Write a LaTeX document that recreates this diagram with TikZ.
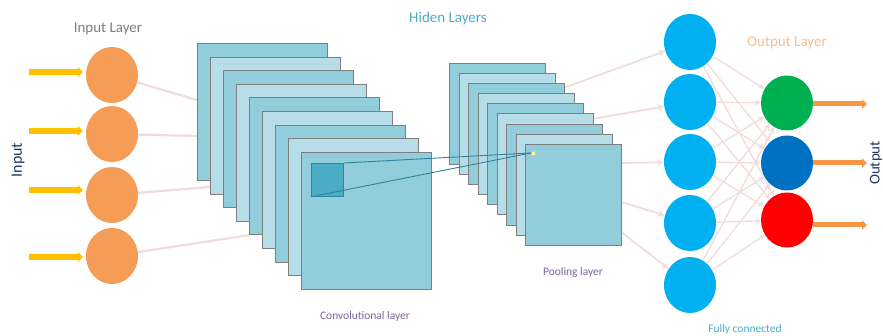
\documentclass[tikz,border=0pt]{standalone}
\usepackage{fontspec}
\setmainfont{Carlito}
\usetikzlibrary{shapes.geometric,arrows.meta,calc}
\pgfdeclarelayer{bg}
\pgfdeclarelayer{paper}
\pgfsetlayers{paper,bg,main}
\definecolor{inorange}{HTML}{F59D56}
\definecolor{outorange}{HTML}{F79646}
\definecolor{arryellow}{HTML}{FFC000}
\definecolor{convdark}{HTML}{92CDDC}
\definecolor{convlight}{HTML}{B7DEE8}
\definecolor{rectborder}{HTML}{7F7F7F}
\definecolor{kernfill}{HTML}{4BACC6}
\definecolor{kernline}{HTML}{31849B}
\definecolor{pinkline}{HTML}{F2DCDB}
\definecolor{fcblue}{HTML}{00B0F0}
\definecolor{outgreen}{HTML}{00B050}
\definecolor{outblue}{HTML}{0070C0}
\definecolor{outred}{HTML}{FF0000}
\definecolor{labgray}{HTML}{7F7F7F}
\definecolor{labteal}{HTML}{4BACC6}
\definecolor{laborange}{HTML}{FAC090}
\definecolor{labpurple}{HTML}{8064A2}
\definecolor{labnavy}{HTML}{1F3864}
\tikzset{
  neuron/.style={ellipse, minimum width=52pt, minimum height=56pt, inner sep=0pt, draw=none},
  convrect/.style={rectangle, anchor=north west, minimum width=130pt, minimum height=137pt, inner sep=0pt, draw=rectborder, line width=0.9pt},
  poolrect/.style={rectangle, anchor=north west, minimum width=96pt, minimum height=101pt, inner sep=0pt, draw=rectborder, line width=0.9pt},
  inline/.style={pinkline, line width=2.2pt},
  fcarrow/.style={pinkline, line width=1.8pt, -{Stealth[length=7pt,width=7pt]}},
  densearrow/.style={pinkline, line width=1.3pt, -{Stealth[length=6pt,width=6pt]}},
  yarrow/.style={arryellow, line width=6pt, -{Triangle[length=5pt,width=10pt]}},
  oarrow/.style={outorange, line width=5pt, -{Triangle[length=5pt,width=9pt]}},
  biglabel/.style={font=\fontsize{15}{18}\selectfont, inner sep=0pt},
  smalllabel/.style={font=\fontsize{11.5}{14}\selectfont, inner sep=0pt, text=labpurple},
}
\begin{document}
\begin{tikzpicture}[x=1pt,y=-1pt]
\useasboundingbox (0,0) rectangle (883,336);
\begin{pgfonlayer}{paper}
\fill[white] (0,0) rectangle (883,336);
\end{pgfonlayer}

% input neurons
\node[neuron, fill=inorange] (in1) at (112,75) {};
\node[neuron, fill=inorange] (in2) at (112,134) {};
\node[neuron, fill=inorange] (in3) at (112,195) {};
\node[neuron, fill=inorange] (in4) at (112,256) {};

% yellow input arrows
\coordinate (ya1) at (29,72);
\coordinate (ya2) at (29,131);
\coordinate (ya3) at (29,190);
\coordinate (ya4) at (29,257);
\foreach \k in {1,...,4}{
  \draw[yarrow, shorten >=3pt] (ya\k) -- (ya\k -| in\k.west);
}

% convolutional stack
\foreach \i in {0,...,8}{
  \ifodd\i\def\cc{convlight}\else\def\cc{convdark}\fi
  \node[convrect, fill=\cc] (conv\i) at ({197+13*\i},{43+13.6*\i}) {};
}
\node[rectangle, anchor=north west, minimum width=32pt, minimum height=33pt, inner sep=0pt, fill=kernfill, draw=kernline, line width=0.8pt] (kern) at (311,163) {};

% pooling stack
\foreach \i in {0,...,8}{
  \ifodd\i\def\cc{convlight}\else\def\cc{convdark}\fi
  \node[poolrect, fill=\cc] (pool\i) at ({449+9.5*\i},{63+10.1*\i}) {};
}
\node[rectangle, minimum width=4pt, minimum height=4pt, inner sep=0pt, fill=yellow!40, draw=yellow!70!orange, line width=0.4pt] (pp) at (533,153) {};

\draw[kernline, line width=0.9pt] (kern.north east) -- (pp.west);
\draw[kernline, line width=0.9pt] (kern.south west) -- (pp.west);

% input -> conv connectors (behind)
\coordinate (ic1) at (197,100);
\coordinate (ic2) at (197,136);
\coordinate (ic3) at (210,187);
\coordinate (ic4) at (250,235);
\begin{pgfonlayer}{bg}
\foreach \k in {1,...,4}{
  \draw[inline] (in\k) -- (ic\k);
}
\end{pgfonlayer}

% fully connected neurons
\node[neuron, fill=fcblue] (fc1) at (690,42) {};
\node[neuron, fill=fcblue] (fc2) at (690,102) {};
\node[neuron, fill=fcblue] (fc3) at (690,162) {};
\node[neuron, fill=fcblue] (fc4) at (690,223) {};
\node[neuron, fill=fcblue] (fc5) at (690,285) {};

% output neurons
\node[neuron, minimum height=55pt, fill=outgreen] (out1) at (787,103) {};
\node[neuron, minimum height=55pt, fill=outblue] (out2) at (787,163) {};
\node[neuron, minimum height=55pt, fill=outred] (out3) at (787,220) {};

% pooling -> fc arrows
\coordinate (pc1) at (563,88);
\coordinate (pc2) at (592,119);
\coordinate (pc3) at (621,163);
\coordinate (pc4) at (621,202);
\coordinate (pc5) at (621,232);
\begin{pgfonlayer}{bg}
\foreach \k in {1,...,5}{
  \draw[fcarrow] (pc\k) -- (fc\k);
}
\end{pgfonlayer}

% fc -> output arrows
\foreach \a in {1,...,5}{
  \foreach \b in {1,2,3}{
    \draw[densearrow] (fc\a) -- (out\b);
  }
}

% output arrows
\coordinate (oa1) at (867,104);
\coordinate (oa2) at (867,163);
\coordinate (oa3) at (867,225);
\draw[oarrow] (out1.east |- oa1) -- (oa1);
\draw[oarrow] (out2.east |- oa2) -- (oa2);
\draw[oarrow] (out3.east |- oa3) -- (oa3);

% labels
\node[biglabel, text=labgray] (tinl) at (108,29) {Input Layer};
\node[font=\fontsize{16}{19}\selectfont, inner sep=0pt, text=labnavy, rotate=90] (tinput) at (18,160) {Input};
\node[biglabel, text=labteal] (thid) at (448,19) {Hiden Layers};
\node[biglabel, text=laborange] (toutl) at (787,43) {Output Layer};
\node[smalllabel] (tconv) at (365,316) {Convolutional layer};
\node[smalllabel] (tpool) at (573,272) {Pooling layer};
\node[smalllabel, text=labteal] (tfc) at (745,329) {Fully connected};
\node[font=\fontsize{15}{18}\selectfont, inner sep=0pt, text=labnavy, rotate=90] (toutput) at (876,163) {Output};
\end{tikzpicture}
\end{document}
